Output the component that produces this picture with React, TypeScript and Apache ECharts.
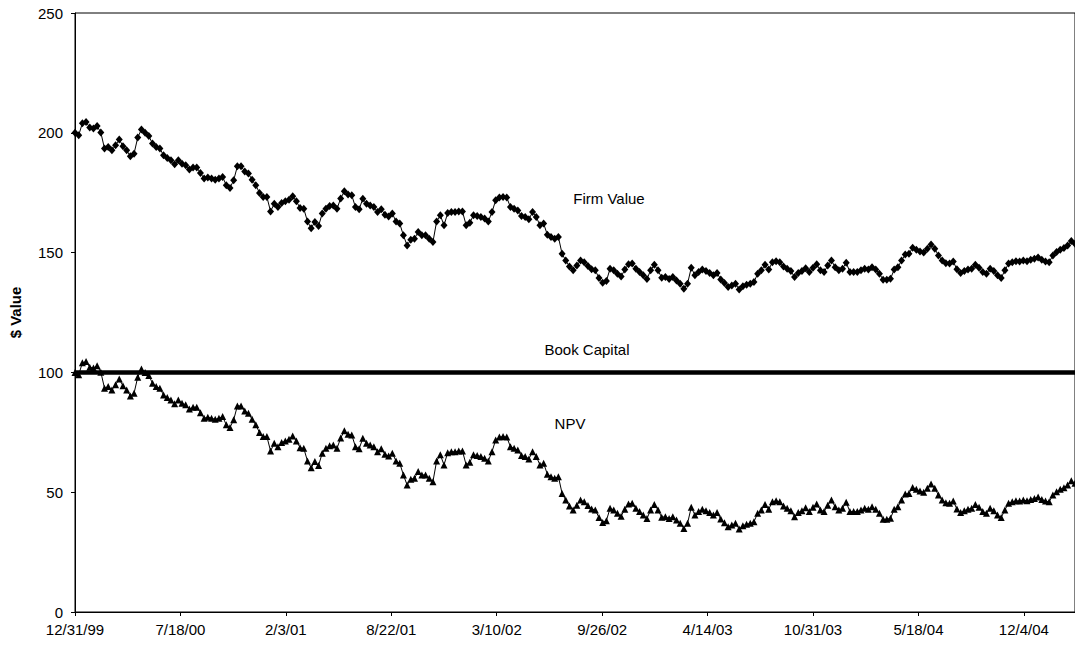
import React, { useEffect, useRef } from "react";
import * as echarts from "echarts";

// Weekly observations starting 12/31/99 (day 0), one every 7 days
const startDateUTC = Date.UTC(1999, 11, 31);
const daysPerObservation = 7;

const firmValue = [
  200, 199, 204, 204.5, 202.2, 201.8, 202.8, 200.1, 193.4, 194.1, 192.7, 194.8, 197.2, 194.4, 192.7, 190.2,
  191.3, 198, 201.4, 200, 198.7, 195.5, 194.1, 193.4, 190.6, 189.5, 188.5, 186.9, 188.5,
  187.1, 186.5, 184.7, 185.5, 185.5, 183.2, 180.9, 181.3, 180.9, 180.4, 180.9, 181.6, 178.1, 177, 180.2, 186,
  186, 183.9, 183, 180.4, 178.1, 174.9, 173.2, 173.2, 167.2, 170.4, 169, 170.7, 171.4,
  172.1, 173.5, 171.4, 168.6, 168.3, 163, 160.2, 162.8, 161.1, 166.3, 168.3, 169.4, 169.7, 168.3, 172.6, 175.6,
  174.2, 173.9, 169, 168.1, 172.5, 170.4, 169.7, 169, 166.9, 168.1, 165.8, 165.1,
  166.3, 163, 162.1, 157.2, 153, 155.4, 155.8, 158.6, 157.2, 157.2, 155.8, 154.4, 163, 165.6, 161.4, 166.5,
  166.9, 166.9, 167.2, 167.2, 161.4, 162.5, 165.6, 165.3, 164.9, 164.2, 163, 166.9, 171.8,
  173, 173.2, 173, 169, 168.3, 167.6, 165.3, 164.9, 163.9, 166.9, 164.9, 161.4, 162.1, 157.5, 156.5, 155.8,
  156.5, 149.5, 146.7, 144.2, 142.6, 144.6, 146.7, 146, 144.4, 143, 142.6, 139.4,
  137.4, 138.1, 143.3, 142.6, 141.2, 140, 142.9, 145.1, 145.4, 143.3, 141.9, 140.5, 139, 142.6, 144.9, 142.6,
  139.5, 139.8, 139, 139.8, 138.4, 137, 134.9, 137, 143.7, 140.5, 141.9, 142.9,
  142.3, 141.5, 140.5, 141.5, 138.8, 137.3, 135.6, 136.3, 137, 134.6, 136, 136.6, 137, 137.7, 141.2, 142.6,
  144.9, 142.9, 146, 146.4, 146, 144.2, 143.3, 142.3, 139.8, 141.5, 142.3, 143.5, 141.9,
  143.7, 145.1, 142.6, 141.9, 144.6, 146.7, 143.9, 142.6, 143.3, 145.8, 141.9, 141.9, 141.9, 142.6, 143.3, 142.9,
  143.9, 142.9, 141.2, 138.7, 138.7, 139.1, 142.9, 143.9, 146.7, 149.2, 149.5, 152, 151.2,
  150.5, 150, 151.6, 153.4, 151.6, 148.8, 146.7, 145.6, 145.4, 146.3, 143, 141.5, 142.3, 142.9, 143.3, 144.9,
  143.7, 141.9, 141.2, 143.3, 142.3, 140.5, 139.4, 142.6, 145.4, 146, 146.4,
  146.3, 146.7, 146.4, 147, 147.4, 148, 147, 146.3, 146, 148.8, 150.2, 151.2, 151.9, 153, 154.8, 153.7,
];

// Book capital is constant; NPV = firm value minus book capital
const bookCapital = 100;

const yTicks = { min: 0, max: 250, interval: 50 };
const xTickIntervalDays = 200;

const seriesLabels = ["Firm Value", "Book Capital", "NPV"];

const FONT = "'Liberation Sans', Arial, sans-serif";

function formatDay(v: number): string {
  const d = new Date(startDateUTC + Math.round(v) * 86400000);
  const yy = String(d.getUTCFullYear() % 100).padStart(2, "0");
  return `${d.getUTCMonth() + 1}/${d.getUTCDate()}/${yy}`;
}

export default function App() {
  const ref = useRef<HTMLDivElement>(null);

  useEffect(() => {
    if (!ref.current) return;
    const chart = echarts.init(ref.current, undefined, { renderer: "svg" });

    const days = firmValue.map((_, i) => i * daysPerObservation);
    const lastDay = days[days.length - 1];
    const firmData = days.map((d, i) => [d, firmValue[i]]);
    const npvData = days.map((d, i) => [d, +(firmValue[i] - bookCapital).toFixed(1)]);
    const bookData = days.map((d) => [d, bookCapital]);

    chart.setOption({
      animation: false,
      backgroundColor: "#ffffff",
      textStyle: { fontFamily: FONT },
      grid: {
        left: 75,
        right: 0,
        top: 13,
        bottom: 38,
        show: true,
        borderColor: "#000",
        borderWidth: 1,
        backgroundColor: "transparent",
      },
      xAxis: {
        type: "value",
        min: 0,
        max: lastDay,
        interval: xTickIntervalDays,
        axisLine: { show: true, lineStyle: { color: "#000", width: 1 } },
        axisTick: { show: true, inside: false, length: 4, lineStyle: { color: "#000" } },
        splitLine: { show: false },
        axisLabel: {
          color: "#000",
          fontSize: 15,
          fontFamily: FONT,
          margin: 10,
          showMaxLabel: false,
          formatter: (v: number) => formatDay(v),
        },
      },
      yAxis: {
        type: "value",
        min: yTicks.min,
        max: yTicks.max,
        interval: yTicks.interval,
        name: "$ Value",
        nameLocation: "middle",
        nameGap: 52,
        nameRotate: 90,
        nameTextStyle: { color: "#000", fontSize: 15, fontWeight: "bold", fontFamily: FONT },
        axisLine: { show: true, lineStyle: { color: "#000", width: 1 } },
        axisTick: { show: true, inside: false, length: 4, lineStyle: { color: "#000" } },
        splitLine: { show: false },
        axisLabel: { color: "#000", fontSize: 15, fontFamily: FONT, margin: 12 },
      },
      series: [
        {
          name: seriesLabels[0],
          type: "line",
          data: firmData,
          symbol: "diamond",
          symbolSize: [7, 8],
          showSymbol: true,
          itemStyle: { color: "#000" },
          lineStyle: { color: "#000", width: 1 },
          z: 3,
        },
        {
          name: seriesLabels[1],
          type: "line",
          data: bookData,
          showSymbol: false,
          symbol: "none",
          lineStyle: { color: "#000", width: 4.5 },
          z: 2,
        },
        {
          name: seriesLabels[2],
          type: "line",
          data: npvData,
          symbol: "triangle",
          symbolSize: [7, 7],
          showSymbol: true,
          itemStyle: { color: "#000" },
          lineStyle: { color: "#000", width: 1 },
          z: 3,
        },
      ],
      graphic: [
        {
          type: "text",
          x: 609,
          y: 198,
          style: { text: seriesLabels[0], fill: "#000", font: `15px ${FONT}`, textAlign: "center", textVerticalAlign: "middle" },
        },
        {
          type: "text",
          x: 587,
          y: 349,
          style: { text: seriesLabels[1], fill: "#000", font: `15px ${FONT}`, textAlign: "center", textVerticalAlign: "middle" },
        },
        {
          type: "text",
          x: 570,
          y: 423,
          style: { text: seriesLabels[2], fill: "#000", font: `15px ${FONT}`, textAlign: "center", textVerticalAlign: "middle" },
        },
      ],
    });

    return () => chart.dispose();
  }, []);

  return (
    <div
      ref={ref}
      style={{ position: "absolute", left: 0, top: 0, width: 1075, height: 650, background: "#fff" }}
    />
  );
}
